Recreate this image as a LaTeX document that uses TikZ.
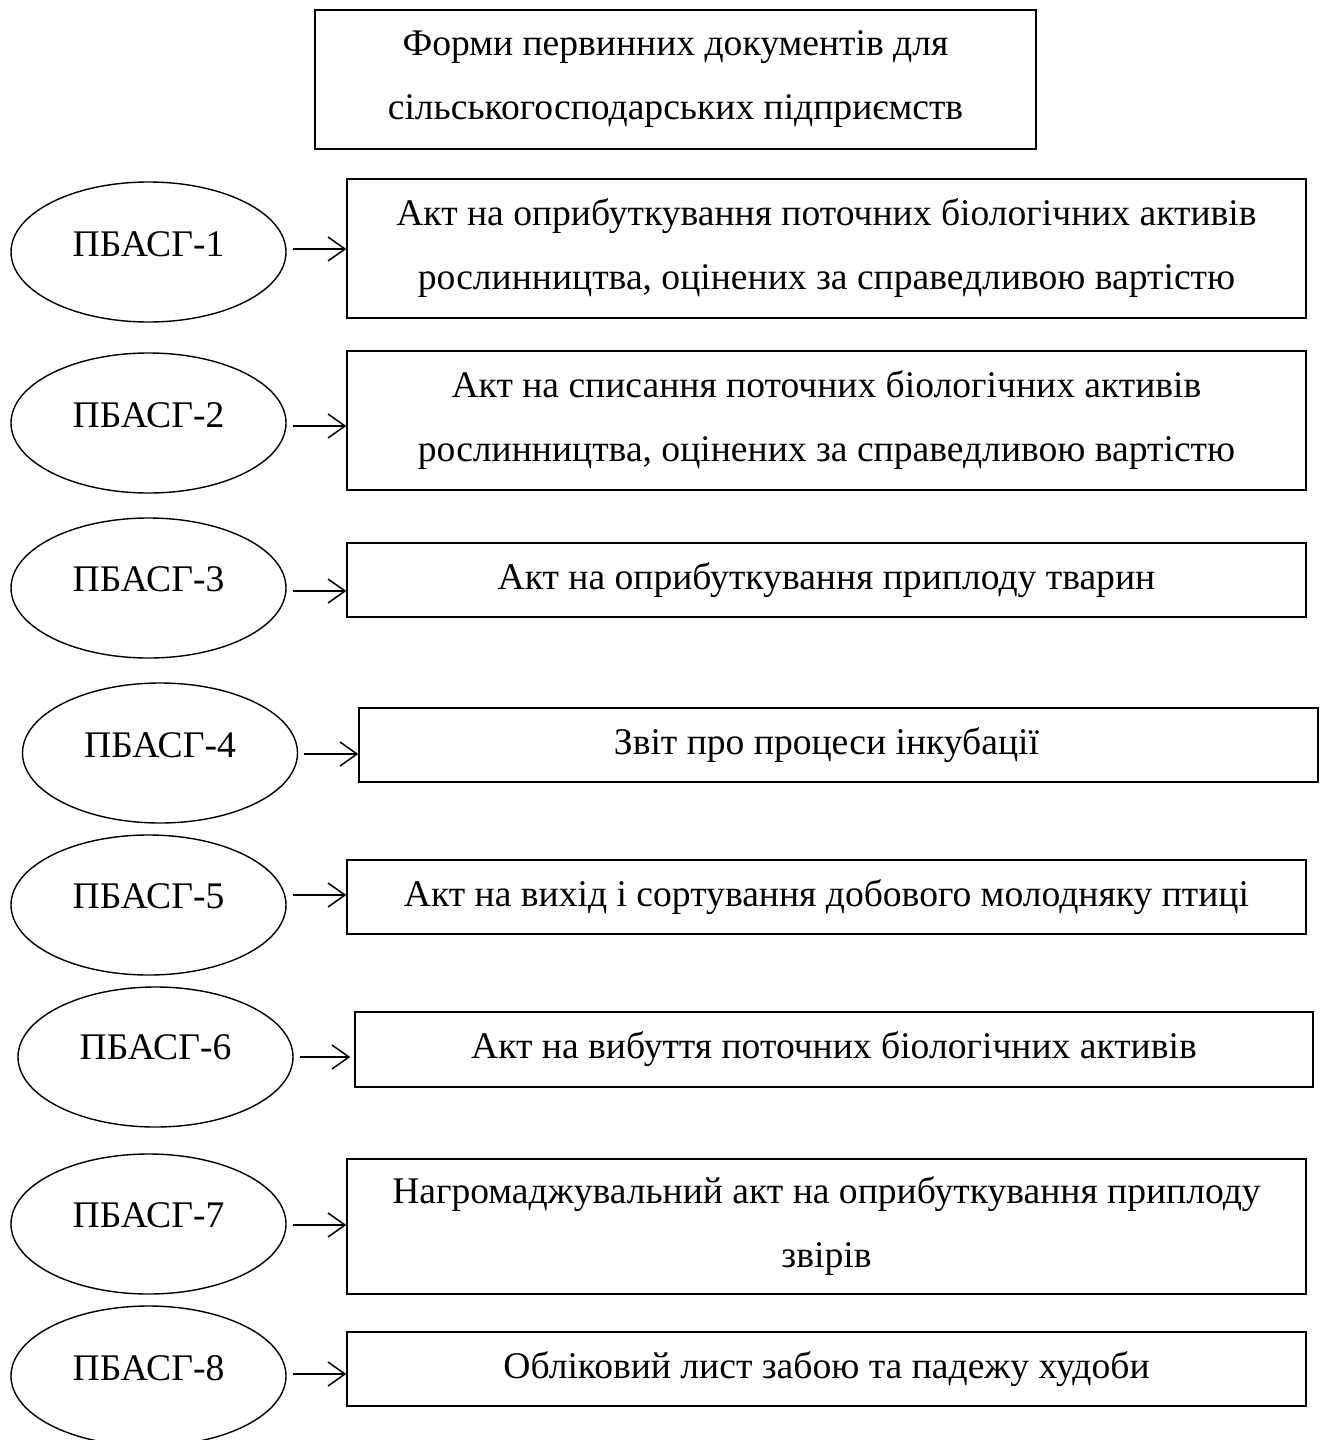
\documentclass[tikz,border=0pt]{standalone}
\usepackage{fontspec}
\setmainfont{Liberation Serif}
\usetikzlibrary{arrows.meta,shapes.geometric}
\begin{document}
\begin{tikzpicture}[x=0.5pt,y=-0.5pt,
  txt/.style={font=\fontsize{18.8pt}{32pt}\selectfont},
  box/.style={txt,draw,line width=0.7pt,rectangle,align=center,inner sep=0pt,minimum width=479.5pt},
  oval/.style={txt,draw,line width=0.7pt,ellipse,minimum width=137.5pt,minimum height=70pt,inner sep=0pt},
  arr/.style={line width=0.75pt,-{Straight Barb[length=8.5pt,width=12pt]}}]
\useasboundingbox (0,0) rectangle (1327,1440);
\clip (0,0) rectangle (1327,1440);

\node[box,minimum width=360.5pt,minimum height=69.5pt] (title) at (675.5,79.5)
  {Форми первинних документів для\\сільськогосподарських підприємств};

\node[box,minimum height=69.5pt] (b1) at (826.5,248.5)
  {Акт на оприбуткування поточних біологічних активів\\рослинництва, оцінених за справедливою вартістю};
\node[box,minimum height=69.5pt] (b2) at (826.5,420.5)
  {Акт на списання поточних біологічних активів\\рослинництва, оцінених за справедливою вартістю};
\node[box,minimum height=37pt] (b3) at (826.5,580)
  {Акт на оприбуткування приплоду тварин};
\node[box,minimum height=37pt] (b4) at (838.5,745)
  {\hspace*{-12pt}Звіт про процеси інкубації};
\node[box,minimum height=37pt] (b5) at (826.5,897)
  {Акт на вихід і сортування добового молодняку птиці};
\node[box,minimum width=479pt,minimum height=37.5pt] (b6) at (834,1049.5)
  {Акт на вибуття поточних біологічних активів};
\node[box,minimum height=67.5pt] (b7) at (826.5,1226.5)
  {Нагромаджувальний акт на оприбуткування приплоду\\звірів};
\node[box,minimum height=37pt] (b8) at (826.5,1369)
  {Обліковий лист забою та падежу худоби};

\node[oval] (e1) at (148.5,252) {\raisebox{4pt}[\height][\depth]{ПБАСГ-1}};
\node[oval] (e2) at (148.5,423) {\raisebox{4pt}[\height][\depth]{ПБАСГ-2}};
\node[oval] (e3) at (148.5,588) {\raisebox{4.5pt}[\height][\depth]{ПБАСГ-3}};
\node[oval] (e4) at (160,753) {\raisebox{4pt}[\height][\depth]{ПБАСГ-4}};
\node[oval] (e5) at (148.5,905) {\raisebox{4.5pt}[\height][\depth]{ПБАСГ-5}};
\node[oval] (e6) at (155.5,1057) {\raisebox{5pt}[\height][\depth]{ПБАСГ-6}};
\node[oval] (e7) at (148.5,1224) {\raisebox{4.5pt}[\height][\depth]{ПБАСГ-7}};
\node[oval] (e8) at (148.5,1376) {\raisebox{4pt}[\height][\depth]{ПБАСГ-8}};

\draw[arr] (e1.east |- 0,249) ++(6,0) -- (b1.west |- 0,249);
\draw[arr] (e2.east |- 0,426) ++(6,0) -- (b2.west |- 0,426);
\draw[arr] (e3.east |- 0,591) ++(6,0) -- (b3.west |- 0,591);
\draw[arr] (e4.east |- 0,754) ++(6,0) -- (b4.west |- 0,754);
\draw[arr] (e5.east |- 0,895) ++(6,0) -- (b5.west |- 0,895);
\draw[arr] (e6.east |- 0,1057) ++(6,0) -- ([xshift=-2pt]b6.west |- 0,1057);
\draw[arr] (e7.east |- 0,1225) ++(6,0) -- (b7.west |- 0,1225);
\draw[arr] (e8.east |- 0,1374) ++(6,0) -- (b8.west |- 0,1374);
\end{tikzpicture}
\end{document}
